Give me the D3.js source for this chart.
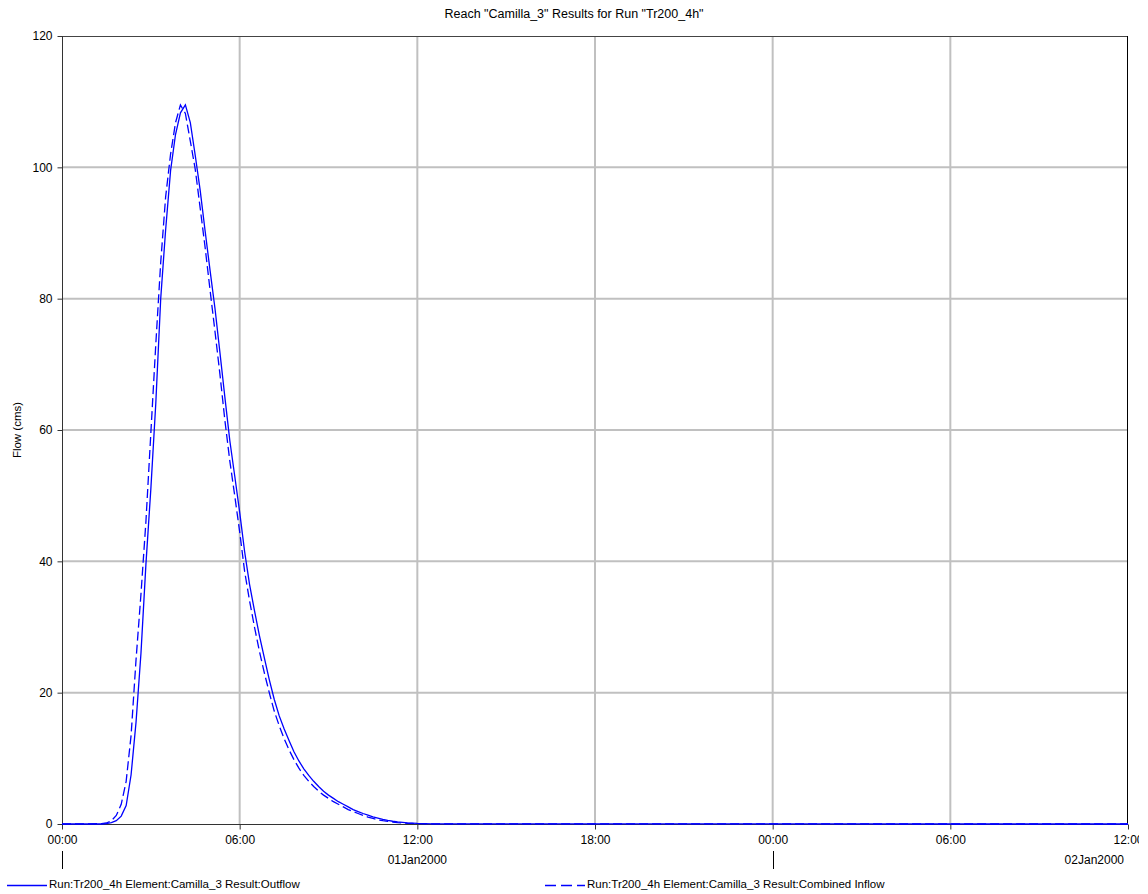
<!DOCTYPE html>
<html>
<head>
<meta charset="utf-8">
<script src="https://cdn.jsdelivr.net/npm/d3@7"></script>
<style>
  html, body { margin: 0; padding: 0; background: #fff; }
  svg { display: block; font-family: "Liberation Sans", Arial, sans-serif; }
</style>
</head>
<body>
<svg id="chart" width="1148" height="894"></svg>
<script>
// ---- Data ----
const titleText = 'Reach "Camilla_3" Results for Run "Tr200_4h"';
const yLabel = "Flow (cms)";
// minutes after 01Jan2000 00:00
const minutes = [0, 80, 90, 100, 110, 120, 130, 140, 150, 160, 170, 180, 190, 200, 210, 220, 230, 240, 250,
  260, 270, 280, 290, 300, 310, 320, 330, 340, 350, 360, 370, 380, 390, 400, 410, 420, 430, 440, 450,
  460, 470, 480, 490, 500, 510, 520, 530, 540, 550, 560, 570, 580, 590, 600, 610, 620, 630, 640, 650,
  660, 670, 680, 690, 700, 710, 720, 750, 780, 2160];
const outflow = [0, 0, 0.05, 0.2, 0.5, 1.2, 2.8, 7.5, 15.5, 26, 39.5, 51, 64, 80, 90.5, 99.5, 105, 108.3, 109.5,
  106.8, 101.8, 96.5, 90.3, 84.3, 78.5, 71.8, 65, 58.4, 53, 47.5, 41.5, 36.5, 32.5, 28.7, 25.3, 22, 19, 16.5, 14.5,
  12.7, 11, 9.6, 8.4, 7.4, 6.5, 5.7, 5.0, 4.4, 3.9, 3.4, 3.0, 2.6, 2.2, 1.9, 1.6, 1.35, 1.1, 0.9, 0.7,
  0.55, 0.42, 0.32, 0.24, 0.17, 0.12, 0.08, 0.03, 0.01, 0];
const combinedInflow = [0, 0.05, 0.15, 0.5, 1.3, 3.0, 6.5, 13.5, 25, 35, 46, 59.5, 73, 85.5, 95.5, 102, 106.8, 109.5, 108.2,
  104, 99.7, 93.8, 87.8, 81.3, 75, 68.5, 61.5, 55.3, 50, 44.5, 38.5, 34, 30, 26.3, 23, 20, 17.2, 15, 13,
  11.3, 9.8, 8.5, 7.4, 6.5, 5.7, 5.0, 4.4, 3.9, 3.4, 3.0, 2.6, 2.2, 1.9, 1.6, 1.3, 1.05, 0.85, 0.65, 0.5,
  0.4, 0.3, 0.22, 0.16, 0.11, 0.08, 0.05, 0.02, 0.01, 0];
const xTickLabels = ["00:00", "06:00", "12:00", "18:00", "00:00", "06:00", "12:00"];
const dateLabels = ["01Jan2000", "02Jan2000"];
const yTicks = [0, 20, 40, 60, 80, 100, 120];
const seriesNames = ["Run:Tr200_4h Element:Camilla_3 Result:Outflow",
                     "Run:Tr200_4h Element:Camilla_3 Result:Combined Inflow"];

// ---- Layout ----
const svg = d3.select("#chart");
const L = 62, R = 1128, T = 36, B = 824;
const t0 = new Date(2000, 0, 1, 0, 0);
const t1 = new Date(2000, 0, 2, 12, 0);
const x = d3.scaleTime().domain([t0, t1]).range([L, R]);
const y = d3.scaleLinear().domain([0, 120]).range([B, T]);
const toDate = m => new Date(t0.getTime() + m * 60000);
const xTicks = xTickLabels.map((_, i) => new Date(t0.getTime() + i * 6 * 3600000));

const defs = svg.append("defs");
defs.append("clipPath").attr("id", "pageclip").append("rect")
  .attr("x", 0).attr("y", 0).attr("width", 1139).attr("height", 894);
defs.append("clipPath").attr("id", "plotclip").append("rect")
  .attr("x", L).attr("y", T - 2).attr("width", R - L).attr("height", B - T + 4);

const root = svg.append("g").attr("clip-path", "url(#pageclip)");

// Title
root.append("text").attr("x", 574).attr("y", 18).attr("text-anchor", "middle")
  .attr("font-size", 12.5).attr("fill", "#000").text(titleText);

// Gridlines
const grid = root.append("g");
grid.selectAll("line.v").data(xTicks.slice(1, -1)).join("line")
  .attr("x1", d => x(d)).attr("x2", d => x(d)).attr("y1", T).attr("y2", B)
  .attr("stroke", "#c0c0c0").attr("stroke-width", 2);
grid.selectAll("line.h").data(yTicks.slice(1, -1)).join("line")
  .attr("x1", L).attr("x2", R).attr("y1", d => y(d)).attr("y2", d => y(d))
  .attr("stroke", "#c0c0c0").attr("stroke-width", 2);

// Frame
root.append("line").attr("x1", L).attr("x2", R).attr("y1", T + 0.5).attr("y2", T + 0.5).attr("stroke", "#444");
root.append("line").attr("x1", R - 0.5).attr("x2", R - 0.5).attr("y1", T).attr("y2", B).attr("stroke", "#000");

// Y axis
const yAxis = d3.axisLeft(y).tickValues(yTicks).tickSize(5).tickPadding(5).tickFormat(d3.format("d"));
const gy = root.append("g").attr("transform", `translate(${L + 0.5},0)`).call(yAxis);
gy.select(".domain").attr("stroke", "#333").attr("d", `M0,${T}V${B}`);
gy.selectAll(".tick line").attr("stroke", "#333");
gy.selectAll("text").attr("font-size", 12).attr("fill", "#000").attr("font-family", "Liberation Sans, Arial, sans-serif");

// X axis
const xAxis = d3.axisBottom(x).tickValues(xTicks).tickSize(5).tickPadding(6)
  .tickFormat((d, i) => xTickLabels[i]);
const gx = root.append("g").attr("transform", `translate(0,${B + 0.5})`).call(xAxis);
gx.select(".domain").attr("stroke", "#333").attr("d", `M${L},0H${R}`);
gx.selectAll(".tick line").attr("stroke", "#333");
gx.selectAll("text").attr("font-size", 12).attr("fill", "#000").attr("font-family", "Liberation Sans, Arial, sans-serif");

// Series (drawn over the axis line)
const pts = (vals) => minutes.map((m, i) => [toDate(m), vals[i]]);
const line = d3.line().x(d => x(d[0])).y(d => y(d[1]));
const plot = root.append("g").attr("clip-path", "url(#plotclip)");
plot.append("path").attr("d", line(pts(combinedInflow))).attr("fill", "none")
  .attr("stroke", "#0000ff").attr("stroke-width", 1.3).attr("stroke-dasharray", "9,4");
plot.append("path").attr("d", line(pts(outflow))).attr("fill", "none")
  .attr("stroke", "#0000ff").attr("stroke-width", 1.3);

// Date labels & day separators
const dayStarts = [t0, new Date(2000, 0, 2, 0, 0)];
root.selectAll("line.day").data(dayStarts).join("line")
  .attr("x1", d => Math.round(x(d)) + 0.5).attr("x2", d => Math.round(x(d)) + 0.5)
  .attr("y1", 851).attr("y2", 869).attr("stroke", "#000");
const datePos = [new Date(2000, 0, 1, 12, 0), new Date(2000, 0, 2, 12, 0)];
root.selectAll("text.date").data(dateLabels).join("text")
  .attr("x", (d, i) => i === 0 ? x(datePos[i]) : 1124)
  .attr("y", 864)
  .attr("text-anchor", (d, i) => i === 0 ? "middle" : "end")
  .attr("font-size", 12).attr("fill", "#000").text(d => d);

// Y label
root.append("text").attr("transform", `translate(21,${(T + B) / 2}) rotate(-90)`)
  .attr("text-anchor", "middle").attr("font-size", 11.5).attr("fill", "#000").text(yLabel);

// Legend
const legend = [
  { x1: 7, x2: 47, tx: 49, dash: null, name: seriesNames[0] },
  { x1: 545, x2: 585, tx: 587, dash: "11,5", name: seriesNames[1] }
];
const lg = root.selectAll("g.leg").data(legend).join("g");
lg.append("line").attr("x1", d => d.x1).attr("x2", d => d.x2).attr("y1", 885.5).attr("y2", 885.5)
  .attr("stroke", "#0000ff").attr("stroke-width", 1.3).attr("stroke-dasharray", d => d.dash);
lg.append("text").attr("x", d => d.tx).attr("y", 888).attr("font-size", 11.5).attr("fill", "#000").text(d => d.name);
</script>
</body>
</html>
